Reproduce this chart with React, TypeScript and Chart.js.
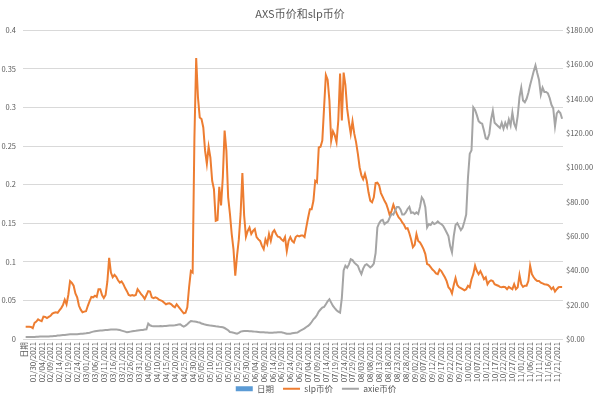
import React, { useEffect, useRef } from 'react';
import { Chart, registerables } from 'chart.js';

Chart.register(...registerables);

// ---------- data ----------
const firstDate = [2021, 0, 26];
const dayCount = 303;

function makeDates(): string[] {
  const out: string[] = [];
  for (let k = 0; k < dayCount; k++) {
    const d = new Date(Date.UTC(firstDate[0], firstDate[1], firstDate[2] + k));
    const mm = String(d.getUTCMonth() + 1).padStart(2, '0');
    const dd = String(d.getUTCDate()).padStart(2, '0');
    out.push(`${mm}/${dd}/${d.getUTCFullYear()}`);
  }
  return out;
}

const dateLabels: string[] = makeDates();
const categories: string[] = ['日期', ...dateLabels];

const slpPrices: number[] = [
  0.016, 0.016, 0.016, 0.0156, 0.014,
  0.021, 0.0225, 0.0255, 0.024, 0.023,
  0.029, 0.0286, 0.027, 0.0286, 0.030,
  0.033, 0.034, 0.0346, 0.034, 0.037,
  0.040, 0.044, 0.051, 0.045, 0.057,
  0.075, 0.0727, 0.069, 0.059, 0.054,
  0.043, 0.038, 0.0346, 0.0355, 0.036,
  0.043, 0.049, 0.0545, 0.054, 0.056,
  0.0545, 0.0645, 0.0645, 0.057, 0.053,
  0.057, 0.0745, 0.105, 0.086, 0.080,
  0.083, 0.0805, 0.076, 0.073, 0.0745,
  0.071, 0.066, 0.062, 0.057, 0.056,
  0.057, 0.056, 0.057, 0.0645, 0.0615,
  0.058, 0.0555, 0.052, 0.057, 0.062,
  0.0615, 0.054, 0.053, 0.054, 0.053,
  0.051, 0.050, 0.049, 0.047, 0.045,
  0.046, 0.0463, 0.045, 0.0425, 0.041,
  0.045, 0.042, 0.039, 0.036, 0.0333,
  0.034, 0.041, 0.067, 0.088, 0.086,
  0.26, 0.364, 0.313, 0.287, 0.285,
  0.274, 0.244, 0.227, 0.249, 0.235,
  0.205, 0.194, 0.153, 0.154, 0.197,
  0.173, 0.210, 0.270, 0.244, 0.1835,
  0.162, 0.136, 0.116, 0.082, 0.108,
  0.129, 0.162, 0.215, 0.160, 0.1325,
  0.140, 0.1445, 0.136, 0.140, 0.1425,
  0.132, 0.129, 0.127, 0.121, 0.1165,
  0.129, 0.123, 0.136, 0.127, 0.138,
  0.141, 0.136, 0.1325, 0.132, 0.129,
  0.127, 0.132, 0.114, 0.127, 0.132,
  0.127, 0.125, 0.132, 0.134, 0.133,
  0.134, 0.134, 0.132, 0.145, 0.157,
  0.168, 0.168, 0.179, 0.205, 0.203,
  0.248, 0.249, 0.257, 0.300, 0.342,
  0.336, 0.309, 0.257, 0.269, 0.264,
  0.255, 0.283, 0.344, 0.283, 0.345,
  0.329, 0.298, 0.281, 0.266, 0.282,
  0.266, 0.255, 0.240, 0.2225, 0.212,
  0.207, 0.214, 0.205, 0.190, 0.179,
  0.177, 0.1835, 0.202, 0.2025, 0.199,
  0.189, 0.184, 0.179, 0.175, 0.168,
  0.160, 0.166, 0.174, 0.1675, 0.162,
  0.1575, 0.155, 0.151, 0.148, 0.143,
  0.1435, 0.137, 0.129, 0.119, 0.122,
  0.136, 0.127, 0.125, 0.121, 0.1165,
  0.110, 0.097, 0.096, 0.093, 0.090,
  0.088, 0.085, 0.084, 0.090, 0.088,
  0.084, 0.080, 0.075, 0.067, 0.0645,
  0.059, 0.070, 0.079, 0.070, 0.067,
  0.066, 0.0645, 0.063, 0.0645, 0.069,
  0.067, 0.0775, 0.084, 0.095, 0.088,
  0.084, 0.088, 0.083, 0.0775, 0.080,
  0.071, 0.0745, 0.076, 0.075, 0.071,
  0.070, 0.069, 0.0675, 0.067, 0.0675,
  0.067, 0.0645, 0.0675, 0.066, 0.0645,
  0.071, 0.0645, 0.067, 0.083, 0.071,
  0.0675, 0.069, 0.069, 0.075, 0.095,
  0.084, 0.080, 0.077, 0.075, 0.075,
  0.073, 0.072, 0.071, 0.0705, 0.070,
  0.068, 0.0645, 0.067, 0.0615, 0.0645,
  0.067, 0.0675, 0.0675,
];

const axiePrices: number[] = [
  1.2, 1.2, 1.2, 1.2, 1.2,
  1.2, 1.3, 1.3, 1.4, 1.4,
  1.4, 1.5, 1.5, 1.5, 1.6,
  1.6, 1.7, 1.8, 2.0, 2.1,
  2.2, 2.3, 2.4, 2.5, 2.6,
  2.7, 2.7, 2.8, 2.8, 2.8,
  2.9, 3.0, 3.1, 3.2, 3.3,
  3.5, 3.7, 4.0, 4.3, 4.5,
  4.7, 4.8, 4.9, 5.0, 5.1,
  5.2, 5.3, 5.4, 5.5, 5.5,
  5.6, 5.6, 5.4, 5.2, 4.9,
  4.6, 4.3, 3.9, 4.1, 4.3,
  4.5, 4.7, 4.8, 5.0, 5.1,
  5.2, 5.3, 5.5, 5.65, 9.0,
  8.0, 7.6, 7.5, 7.4, 7.4,
  7.5, 7.6, 7.5, 7.6, 7.6,
  7.7, 7.8, 7.8, 7.9, 8.0,
  8.2, 8.4, 8.6, 7.8, 7.2,
  7.8, 8.6, 9.6, 10.5, 10.3,
  10.2, 10.1, 9.8, 9.6, 9.0,
  8.7, 8.4, 8.2, 8.0, 7.8,
  7.7, 7.6, 7.4, 7.3, 7.1,
  7.0, 6.8, 6.4, 5.8, 5.1,
  4.1, 3.9, 3.7, 3.4, 3.1,
  3.6, 4.3, 4.5, 4.6, 4.7,
  4.6, 4.5, 4.5, 4.4, 4.3,
  4.2, 4.1, 4.0, 4.0, 3.9,
  3.8, 3.8, 3.7, 3.7, 3.7,
  3.8, 3.8, 3.9, 3.9, 3.9,
  3.7, 3.4, 3.1, 3.0, 3.1,
  3.3, 3.5, 3.6, 3.7, 4.4,
  5.1, 5.6, 6.2, 7.0, 7.6,
  8.6, 9.9, 11.5, 12.5, 14.0,
  16.0, 17.2, 18.3, 18.7, 20.3,
  22.0, 23.2, 21.2, 19.3, 18.0,
  16.8, 16.0, 15.4, 24.0, 40.0,
  42.7, 41.5, 43.5, 46.5, 46.0,
  44.5, 43.6, 42.7, 40.0, 37.8,
  41.0, 43.0, 43.6, 42.7, 41.7,
  42.5, 44.0, 50.0, 65.0, 67.5,
  69.0, 69.5, 67.0, 67.8, 68.5,
  70.9, 72.9, 72.5, 74.8, 77.0,
  77.0, 75.5, 72.5, 72.5, 73.8,
  75.8, 77.0, 73.5, 73.8, 72.9,
  73.8, 72.9, 77.0, 82.6, 81.0,
  76.8, 65.1, 67.0, 66.5, 68.0,
  67.0, 67.5, 68.5, 67.5, 67.0,
  66.0, 64.1, 62.1, 60.0, 54.0,
  50.5, 60.0, 66.5, 67.5, 65.5,
  63.5, 65.0, 68.5, 72.5, 94.0,
  108.0, 110.0, 135.0, 133.5, 130.5,
  127.0, 126.0, 125.5, 121.5, 117.0,
  116.5, 119.5, 128.0, 133.0, 126.0,
  125.0, 124.0, 123.0, 126.0, 122.5,
  126.0, 123.5, 128.0, 124.5, 132.0,
  125.5, 123.0, 130.0, 141.0, 146.5,
  139.0, 138.0, 140.0, 143.5, 148.0,
  152.0, 156.0, 159.5, 155.0, 151.0,
  142.5, 146.5, 144.0, 144.0, 143.2,
  140.5, 136.5, 134.5, 124.0, 131.5,
  132.9, 131.7, 128.4,
];

const seriesNames: string[] = ['日期', 'slp币价', 'axie币价'];
const titleText = 'AXS币价和slp币价';
const leftTicks: number[] = [0, 0.05, 0.1, 0.15, 0.2, 0.25, 0.3, 0.35, 0.4];
const rightTicks: number[] = [0, 20, 40, 60, 80, 100, 120, 140, 160, 180];
const labelEvery = 5;

// ---------- chart ----------
const TEXT = '#595959';
const FONT = '"Noto Sans CJK SC", "Noto Sans", sans-serif';

// lets the rotated date labels run down to the legend (the axis box would clip them)
// and nudges the legend to where the reference has it
const labelRoom = {
  id: 'labelRoom',
  afterLayout(chart: any) {
    const x = chart.scales.x;
    if (x) x.bottom = 386;
    if (chart.legend) {
      chart.legend.top += 3;
      chart.legend.bottom += 3;
      chart.legend.left += 16;
      chart.legend.right += 16;
    }
  },
};

export default function App() {
  const canvasRef = useRef<HTMLCanvasElement | null>(null);

  useEffect(() => {
    if (!canvasRef.current) return;
    const colors = ['#5B9BD5', '#ED7D31', '#A5A5A5'];
    const chart = new Chart(canvasRef.current, {
      type: 'line',
      data: {
        labels: categories,
        datasets: [
          {
            type: 'bar',
            label: seriesNames[0],
            data: categories.map(() => null),
            backgroundColor: colors[0],
            borderColor: colors[0],
            yAxisID: 'y',
            order: 3,
          } as any,
          {
            type: 'line',
            label: seriesNames[1],
            data: [null, ...slpPrices],
            borderColor: colors[1],
            backgroundColor: colors[1],
            borderWidth: 2,
            pointRadius: 0,
            tension: 0,
            yAxisID: 'y',
            order: 2,
          },
          {
            type: 'line',
            label: seriesNames[2],
            data: [null, ...axiePrices],
            borderColor: colors[2],
            backgroundColor: colors[2],
            borderWidth: 2,
            pointRadius: 0,
            tension: 0,
            yAxisID: 'y1',
            order: 1,
          },
        ],
      },
      options: {
        animation: false,
        responsive: true,
        maintainAspectRatio: false,
        devicePixelRatio: 1,
        layout: { padding: { top: 0, left: 0, right: 0, bottom: 0 } },
        font: { family: FONT },
        plugins: {
          title: {
            display: true,
            text: titleText,
            color: TEXT,
            font: { family: FONT, size: 11, weight: 'normal' },
            padding: { top: 7, bottom: 10 },
          },
          legend: {
            position: 'bottom',
            labels: {
              color: TEXT,
              font: { family: FONT, size: 8.5 },
              usePointStyle: true,
              pointStyleWidth: 17,
              boxHeight: 5,
              padding: 9,
              generateLabels: (c: any) =>
                c.data.datasets.map((ds: any, i: number) => ({
                  text: ds.label,
                  fillStyle: ds.backgroundColor,
                  strokeStyle: ds.borderColor,
                  lineWidth: i === 0 ? 0 : 2,
                  pointStyle: i === 0 ? 'rect' : 'line',
                  hidden: false,
                  datasetIndex: i,
                  fontColor: TEXT,
                })),
            },
          },
          tooltip: { enabled: false },
        },
        scales: {
          x: {
            type: 'category',
            offset: true,
            grid: { display: false, drawTicks: false },
            border: { display: false },
            ticks: {
              autoSkip: false,
              minRotation: 90,
              maxRotation: 90,
              padding: 3,
              color: TEXT,
              font: { family: FONT, size: 7.7 },
              callback: (_v: any, idx: number) => (idx % labelEvery === 0 ? categories[idx] : ''),
            },
            afterFit: (s: any) => {
              s.height = 33.5;
            },
          },
          y: {
            type: 'linear',
            position: 'left',
            min: leftTicks[0],
            max: leftTicks[leftTicks.length - 1],
            afterBuildTicks: (s: any) => {
              s.ticks = leftTicks.map((v) => ({ value: v }));
            },
            grid: { color: '#D9D9D9', lineWidth: 1, drawTicks: false },
            border: { display: false },
            ticks: {
              padding: 7,
              color: TEXT,
              font: { family: FONT, size: 7.5 },
              callback: (v: any) => String(Math.round(Number(v) * 100) / 100),
            },
            afterFit: (s: any) => {
              s.width = 23;
            },
          },
          y1: {
            type: 'linear',
            position: 'right',
            min: rightTicks[0],
            max: rightTicks[rightTicks.length - 1],
            afterBuildTicks: (s: any) => {
              s.ticks = rightTicks.map((v) => ({ value: v }));
            },
            grid: { display: false, drawTicks: false },
            border: { display: false },
            ticks: {
              padding: 3,
              color: TEXT,
              font: { family: FONT, size: 7.5 },
              callback: (v: any) => '$' + Number(v).toFixed(2),
            },
            afterFit: (s: any) => {
              s.width = 37;
            },
          },
        },
      } as any,
      plugins: [labelRoom],
    });
    return () => chart.destroy();
  }, []);

  return (
    <div style={{ position: 'fixed', left: 0, top: 0, width: 600, height: 400, background: '#fff' }}>
      <canvas ref={canvasRef} />
    </div>
  );
}
